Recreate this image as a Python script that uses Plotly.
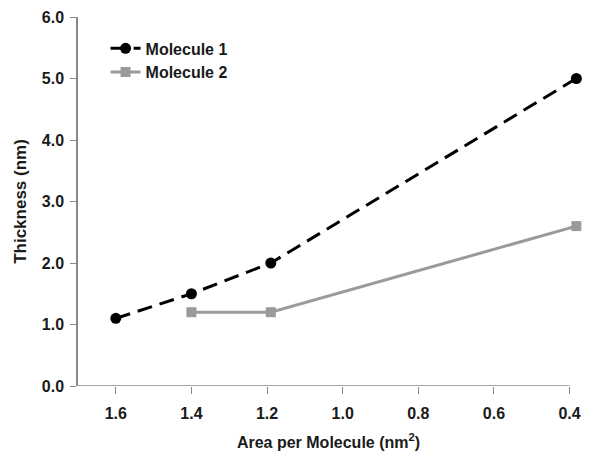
import plotly.graph_objects as go

mol1_x = [1.6, 1.4, 1.19, 0.382]
mol1_y = [1.1, 1.5, 2.0, 5.0]
mol2_x = [1.4, 1.19, 0.382]
mol2_y = [1.2, 1.2, 2.6]
x_ticks = [1.6, 1.4, 1.2, 1.0, 0.8, 0.6, 0.4]
x_labels = ["1.6", "1.4", "1.2", "1.0", "0.8", "0.6", "0.4"]
y_ticks = [0, 1, 2, 3, 4, 5, 6]
y_labels = ["0.0", "1.0", "2.0", "3.0", "4.0", "5.0", "6.0"]

font = "Liberation Sans, Arial, sans-serif"

fig = go.Figure()
fig.add_trace(go.Scatter(
    x=mol1_x, y=mol1_y, name="<b>Molecule 1</b>", mode="lines+markers",
    line=dict(color="black", width=3, dash="15px,8px"),
    marker=dict(symbol="circle", size=11, color="black"),
    cliponaxis=False,
))
fig.add_trace(go.Scatter(
    x=mol2_x, y=mol2_y, name="<b>Molecule 2</b>", mode="lines+markers",
    line=dict(color="#9a9a9a", width=3),
    marker=dict(symbol="square", size=10, color="#9a9a9a"),
    cliponaxis=False,
))

# x axis line stops at the last tick (0.4), as in the reference
fig.add_shape(type="line", xref="x", yref="y", x0=1.7, x1=min(x_ticks), y0=0, y1=0,
              line=dict(color="#888", width=1.5), layer="below")

fig.update_layout(
    width=601, height=456,
    margin=dict(l=70, r=30, t=9, b=78),
    plot_bgcolor="white", paper_bgcolor="white",
    font=dict(family=font, size=16, color="#1a1a1a"),
    showlegend=True,
    legend=dict(x=0.055, y=0.961, xanchor="left", yanchor="top",
                bgcolor="rgba(0,0,0,0)", font=dict(size=16, color="#1a1a1a"),
                tracegroupgap=0, itemwidth=30),
    xaxis=dict(
        range=[1.7, 0.375], autorange=False,
        tickvals=x_ticks, ticktext=["<b>%s</b>" % t for t in x_labels],
        showgrid=False, zeroline=False, showline=False,
        ticks="outside", tickcolor="#888", ticklen=7, tickwidth=1,
        ticklabelstandoff=6,
        tickfont=dict(size=16),
        automargin="top+bottom",
        title=dict(text="<b>Area per Molecule (nm<sup>2</sup>)</b>", font=dict(size=16), standoff=15),
    ),
    yaxis=dict(
        range=[0, 6], autorange=False,
        tickvals=y_ticks, ticktext=["<b>%s</b>" % t for t in y_labels],
        showgrid=False, zeroline=False,
        showline=True, linecolor="#888", linewidth=1.5,
        ticks="outside", tickcolor="#888", ticklen=6, tickwidth=1,
        ticklabelstandoff=3,
        tickfont=dict(size=16),
        automargin="left+right",
        title=dict(text="<b>Thickness (nm)</b>", font=dict(size=17), standoff=11),
    ),
)

fig.write_html("out.html")
